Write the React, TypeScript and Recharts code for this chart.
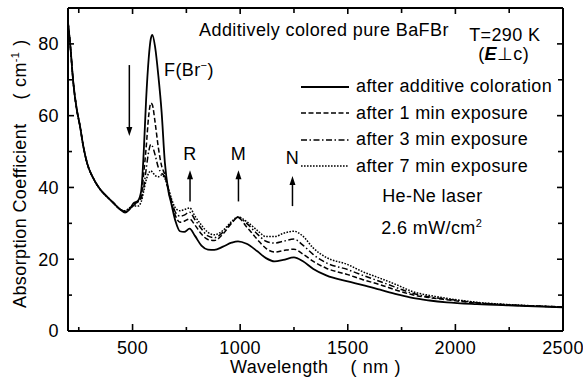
import React from 'react';
import { LineChart, Line, XAxis, YAxis, Legend, ReferenceDot, ReferenceLine } from 'recharts';

const FONT = "'Liberation Sans', Arial, Helvetica, sans-serif";

// Wavelength (nm)
const wavelength = [200, 210, 225, 240, 256, 271, 290, 318, 349, 380, 411, 440, 465, 485, 505, 525, 540, 552, 563, 575, 585, 592, 605, 620, 635, 650, 665, 680, 700, 720, 740, 765, 790, 820, 850, 880, 920, 960, 990, 1030, 1080, 1120, 1160, 1200, 1250, 1290, 1340, 1400, 1500, 1570, 1650, 1730, 1800, 1880, 1960, 2100, 2270, 2500];

// Absorption coefficient (cm^-1)
const afterColoration = [86, 80, 69, 62, 57, 51.5, 46.5, 42.5, 39.5, 37.5, 35.7, 34, 33, 33.8, 35.6, 36.3, 39, 50, 64.5, 76, 81.5, 82.5, 79, 71, 61, 47, 39.5, 35.5, 30.5, 27.8, 27.6, 28.5, 26.5, 23.8, 22.7, 22.6, 23.5, 24.6, 25, 24.3, 22.2, 20.3, 19.4, 19.8, 20.5, 19.5, 17.3, 15.5, 13.8, 12.8, 11.5, 10.2, 9.2, 8.5, 8.0, 7.5, 7.1, 6.6];
const after1min = [86, 80, 69, 62, 57, 51.5, 46.5, 42.5, 39.5, 37.5, 35.7, 34, 33.3, 34, 35.3, 36, 37.5, 44, 51, 60, 63.5, 63, 58, 51, 46, 43.5, 39.5, 36, 32, 30.3, 30.6, 31.2, 29.5, 27, 25.5, 25.2, 27, 30, 31.6, 29, 25.5, 23, 22, 22.4, 22.8, 21.5, 19.4, 17.5, 15.7, 14.3, 12.9, 11.3, 10.1, 9.3, 8.7, 7.8, 7.2, 6.7];
const after3min = [86, 80, 69, 62, 57, 51.5, 46.5, 42.5, 39.5, 37.5, 35.7, 34, 33.3, 34, 35, 36, 37, 40, 45, 50, 52, 51.5, 49, 45.5, 44, 43, 40, 36.5, 33, 32, 32.3, 33.1, 31, 28.5, 26.5, 26, 27.5, 30.2, 31.7, 30, 27, 25, 24.5, 25, 25.6, 24, 21.3, 19, 17.1, 15.5, 13.8, 12, 10.5, 9.5, 8.9, 7.9, 7.2, 6.7];
const after7min = [86, 80, 69, 62, 57, 51.5, 46.5, 42.5, 39.5, 37.5, 35.7, 34, 33.5, 34.3, 34.8, 34.8, 36, 39, 42, 44, 44.6, 44.3, 43.3, 43, 43.5, 42.5, 40, 37, 34.2, 33.5, 33.8, 34.3, 32, 29.5, 27.5, 26.8, 28, 30.5, 31.8, 30.5, 28, 26.3, 26.3, 27.2, 27.8, 26.5, 23.1, 20.5, 18.5, 16.5, 14.7, 12.8, 11.0, 9.9, 9.1, 8.0, 7.3, 6.7];

const xTicks = [250, 500, 750, 1000, 1250, 1500, 1750, 2000, 2250, 2500];
const xLabeled = [500, 1000, 1500, 2000, 2500];
const yTicks = [0, 10, 20, 30, 40, 50, 60, 70, 80];
const yLabeled = [0, 20, 40, 60, 80];
const xDomain = [200, 2500];
const yDomain = [0, 90];

const seriesKeys = ['s0', 's1', 's2', 's3'];
const seriesNames = ['after additive coloration', 'after 1 min exposure', 'after 3 min exposure', 'after 7 min exposure'];
const seriesDash = ['', '5 2.5', '6 2.5 1.5 2.5', '1.6 1.4'];
const seriesWidth = [1.8, 1.5, 1.5, 1.5];

// Peak markers (data coordinates)
const peakLabels = [
  { text: 'R', x: 767, y: 47.6 },
  { text: 'M', x: 992, y: 47.6 },
  { text: 'N', x: 1243, y: 46.4 },
];
const arrows = [
  { x: 485, from: 74.1, to: 54.3 },
  { x: 767, from: 36.1, to: 44.8 },
  { x: 992, from: 36.1, to: 44.8 },
  { x: 1243, from: 34.8, to: 43.2 },
];

const data = wavelength.map((w, i) => ({
  w,
  s0: afterColoration[i],
  s1: after1min[i],
  s2: after3min[i],
  s3: after7min[i],
}));

const TICK_W = 1.6;
const INK = '#000';

const BottomTick = (props: any) => {
  const { x, y, payload } = props;
  const major = xLabeled.includes(payload.value);
  return (
    <g>
      <path d={`M${x},${y}V${Number(y) - (major ? 7 : 4)}`} stroke={INK} strokeWidth={TICK_W} fill="none" />
      {major && (
        <text x={x} y={Number(y) + 23} textAnchor="middle" fontSize={18} fill={INK} fontFamily={FONT} letterSpacing={0.4}>
          {payload.value}
        </text>
      )}
    </g>
  );
};
const TopTick = (props: any) => {
  const { x, y, payload } = props;
  const major = xLabeled.includes(payload.value);
  return <path d={`M${x},${y}V${Number(y) + (major ? 6 : 5)}`} stroke={INK} strokeWidth={TICK_W} fill="none" />;
};
const LeftTick = (props: any) => {
  const { x, y, payload } = props;
  const major = yLabeled.includes(payload.value);
  return (
    <g>
      <path d={`M${x},${y}H${Number(x) + (major ? 6 : 4)}`} stroke={INK} strokeWidth={TICK_W} fill="none" />
      {major && (
        <text x={Number(x) - 9} y={Number(y) + 6.3} textAnchor="end" fontSize={18} fill={INK} fontFamily={FONT} letterSpacing={0.4}>
          {payload.value}
        </text>
      )}
    </g>
  );
};
const RightTick = (props: any) => {
  const { x, y, payload } = props;
  const major = yLabeled.includes(payload.value);
  return <path d={`M${x},${y}H${Number(x) - (major ? 6 : 5)}`} stroke={INK} strokeWidth={TICK_W} fill="none" />;
};

const XTitle = (props: any) => {
  const vb = props.viewBox || { x: 68, y: 331, width: 495, height: 49 };
  return (
    <text x={vb.x + vb.width / 2} y={vb.y + 42} textAnchor="middle" fontSize={18} fill={INK} fontFamily={FONT} letterSpacing={0.4}>
      Wavelength<tspan dx={22}>(</tspan><tspan dx={6}>nm</tspan><tspan dx={6}>)</tspan>
    </text>
  );
};
const YTitle = (props: any) => {
  const vb = props.viewBox || { x: 0, y: 8, width: 68, height: 323 };
  const x = vb.x + 26;
  const y = vb.y + vb.height - 23;
  return (
    <text x={x} y={y} transform={`rotate(-90, ${x}, ${y})`} textAnchor="start" fontSize={18} fill={INK} fontFamily={FONT} letterSpacing={0.4}>
      Absorption Coefficient<tspan dx={24}>(</tspan><tspan dx={6}>cm</tspan>
      <tspan dy={-7} fontSize={11}>-1</tspan>
      <tspan dy={7} dx={6}>)</tspan>
    </text>
  );
};

const Arrow = (p: any) => {
  const { x1, y1, x2, y2 } = p;
  const dir = y2 > y1 ? 1 : -1;
  const head = 9;
  return (
    <g>
      <line x1={x1} y1={y1} x2={x2} y2={y2 - dir * head * 0.6} stroke={INK} strokeWidth={1.5} />
      <polygon points={`${x2},${y2} ${x2 - 3},${y2 - dir * head} ${x2 + 3},${y2 - dir * head}`} fill={INK} />
    </g>
  );
};

const textStyle = { fontSize: 18, fill: INK, fontFamily: FONT, letterSpacing: 0.4 } as any;

const LegendBox = () => (
  <div style={{ fontFamily: FONT, fontSize: 18, letterSpacing: 0.4, color: INK }}>
    {seriesNames.map((n, i) => (
      <div key={n} style={{ display: 'flex', alignItems: 'center', height: 26.4, whiteSpace: 'nowrap' }}>
        <svg width={48} height={6} style={{ display: 'block' }}>
          <line x1={0} y1={3} x2={48} y2={3} stroke={INK} strokeWidth={seriesWidth[i]} strokeDasharray={seriesDash[i] || undefined} />
        </svg>
        <span style={{ marginLeft: 7 }}>{n}</span>
      </div>
    ))}
  </div>
);

const axisLineStyle = { stroke: INK, strokeWidth: 2 };

export default function App() {
  return (
    <div style={{ position: 'absolute', left: 0, top: 0, width: 583, height: 380, background: '#fff' }}>
      <LineChart width={583} height={380} data={data} margin={{ top: 7, right: 19, left: 0, bottom: 0 }}>
        <XAxis
          dataKey="w"
          type="number"
          domain={xDomain}
          allowDataOverflow
          ticks={xTicks}
          interval={0}
          height={49}
          tickSize={0}
          tickMargin={0}
          tickLine={false}
          tick={BottomTick}
          axisLine={axisLineStyle}
          label={<XTitle />}
        />
        <XAxis
          xAxisId="top"
          dataKey="w"
          orientation="top"
          type="number"
          domain={xDomain}
          allowDataOverflow
          ticks={xTicks}
          interval={0}
          height={1}
          tickSize={0}
          tickMargin={0}
          tickLine={false}
          tick={TopTick}
          axisLine={axisLineStyle}
        />
        <YAxis
          type="number"
          domain={yDomain}
          allowDataOverflow
          ticks={yTicks}
          interval={0}
          width={68}
          tickSize={0}
          tickMargin={0}
          tickLine={false}
          tick={LeftTick}
          axisLine={axisLineStyle}
          label={<YTitle />}
        />
        <YAxis
          yAxisId="right"
          orientation="right"
          type="number"
          domain={yDomain}
          allowDataOverflow
          ticks={yTicks}
          interval={0}
          width={1}
          tickSize={0}
          tickMargin={0}
          tickLine={false}
          tick={RightTick}
          axisLine={axisLineStyle}
        />
        {seriesKeys.map((k, i) => (
          <Line
            key={k}
            dataKey={k}
            name={seriesNames[i]}
            type="monotone"
            stroke={INK}
            strokeWidth={seriesWidth[i]}
            strokeDasharray={seriesDash[i] || undefined}
            dot={false}
            activeDot={false}
            isAnimationActive={false}
          />
        ))}
        {arrows.map((a, i) => (
          <ReferenceLine
            key={'arr' + i}
            segment={[{ x: a.x, y: a.from }, { x: a.x, y: a.to }]}
            stroke={INK}
            shape={Arrow}
          />
        ))}
        {peakLabels.map((p) => (
          <ReferenceDot
            key={p.text}
            x={p.x}
            y={p.y}
            r={0}
            shape={(s: any) => (
              <text x={s.cx} y={s.cy} textAnchor="middle" {...textStyle}>{p.text}</text>
            )}
          />
        ))}
        <ReferenceDot x={646} y={71} r={0} shape={(s: any) => (
          <text x={s.cx} y={s.cy} {...textStyle}>F(Br<tspan dy={-7} fontSize={11}>−</tspan><tspan dy={7}>)</tspan></text>
        )} />
        <ReferenceDot x={809} y={82.1} r={0} shape={(s: any) => (
          <text x={s.cx} y={s.cy} {...textStyle}>Additively colored pure BaFBr</text>
        )} />
        <ReferenceDot x={2064} y={80.8} r={0} shape={(s: any) => (
          <text x={s.cx} y={s.cy} {...textStyle}>
            T=290 K
            <tspan x={Number(s.cx) + 9} dy={18.5}>(</tspan>
            <tspan fontWeight="bold" fontStyle="italic">E</tspan>
            <tspan>⊥c)</tspan>
          </text>
        )} />
        <ReferenceDot x={1660} y={35.9} r={0} shape={(s: any) => (
          <text x={s.cx} y={s.cy} {...textStyle}>He-Ne laser</text>
        )} />
        <ReferenceDot x={1655} y={26.9} r={0} shape={(s: any) => (
          <text x={s.cx} y={s.cy} {...textStyle}>2.6 mW/cm<tspan dy={-7} fontSize={11}>2</tspan></text>
        )} />
        <Legend
          layout="vertical"
          align="center"
          verticalAlign="middle"
          content={<LegendBox />}
          wrapperStyle={{ position: 'absolute', left: 301, top: 73.8, width: 270, height: 106 }}
        />
      </LineChart>
    </div>
  );
}
